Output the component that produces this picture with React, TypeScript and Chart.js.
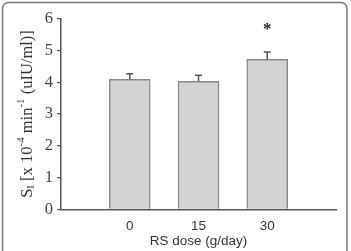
import React, { useEffect, useRef } from "react";
import { Chart, registerables } from "chart.js";

Chart.register(...registerables);

const categories: string[] = ["0", "15", "30"];
const means: number[] = [4.09, 4.03, 4.72];
const errors: number[] = [0.18, 0.19, 0.23];
const significance: string[] = ["", "", "*"];
const yTicks: number[] = [0, 1, 2, 3, 4, 5, 6];
const xTitle = "RS dose (g/day)";

const SERIF = "'Liberation Serif', 'Times New Roman', serif";
const SANS = "'Liberation Sans', Arial, sans-serif";

const frame = {
  id: "frame",
  beforeDraw(chart: any) {
    const ctx = chart.ctx;
    ctx.save();
    ctx.strokeStyle = "#7a7a7a";
    ctx.lineWidth = 1.5;
    ctx.beginPath();
    (ctx as any).roundRect(2.5, 2.5, 344.5, 270, 6);
    ctx.stroke();
    ctx.restore();
  },
};

const errorBars = {
  id: "errorBars",
  afterDatasetsDraw(chart: any) {
    const ctx = chart.ctx;
    const meta = chart.getDatasetMeta(0);
    const y = chart.scales.y;
    ctx.save();
    meta.data.forEach((bar: any, i: number) => {
      const idx = i - 1;
      if (idx < 0 || idx >= means.length) return;
      const top = y.getPixelForValue(means[idx]);
      const et = y.getPixelForValue(means[idx] + errors[idx]);
      ctx.strokeStyle = "#555";
      ctx.lineWidth = 1.5;
      ctx.beginPath();
      ctx.moveTo(bar.x, top);
      ctx.lineTo(bar.x, et);
      ctx.moveTo(bar.x - 3.5, et);
      ctx.lineTo(bar.x + 3.5, et);
      ctx.stroke();
      if (significance[idx]) {
        ctx.fillStyle = "#222";
        ctx.font = "bold 17px " + SERIF;
        ctx.textAlign = "center";
        ctx.textBaseline = "middle";
        ctx.fillText(significance[idx], bar.x, et - 22);
      }
    });
    ctx.restore();
  },
};

const yTitle = {
  id: "yTitle",
  afterDraw(chart: any) {
    const ctx = chart.ctx;
    const area = chart.chartArea;
    const runs: [string, string, number][] = [
      ["S", "n", 0],
      ["I", "s", 3.5],
      [" [x 10", "n", 0],
      ["-4", "s", -6.5],
      [" min", "n", 0],
      ["-1", "s", -6.5],
      [" (uIU/ml)]", "n", 0],
    ];
    const big = "16.5px " + SERIF;
    const small = "11px " + SERIF;
    ctx.save();
    let total = 0;
    const widths = runs.map(([t, k]) => {
      ctx.font = k === "n" ? big : small;
      const w = ctx.measureText(t).width;
      total += w;
      return w;
    });
    const cx = 27;
    const cy = (area.top + area.bottom) / 2;
    ctx.translate(cx, cy);
    ctx.rotate(-Math.PI / 2);
    ctx.fillStyle = "#333";
    ctx.textBaseline = "middle";
    ctx.textAlign = "left";
    let x = -total / 2;
    runs.forEach(([t, k, dy], i) => {
      ctx.font = k === "n" ? big : small;
      ctx.fillText(t, x, dy + 1);
      x += widths[i];
    });
    ctx.restore();
  },
};

export default function App() {
  const ref = useRef<HTMLCanvasElement | null>(null);
  useEffect(() => {
    document.body.style.margin = "0";
    const labels = ["", ...categories, ""];
    const data = [null, ...means, null];
    const chart = new Chart(ref.current as HTMLCanvasElement, {
      type: "bar",
      data: {
        labels,
        datasets: [
          {
            data: data as any,
            backgroundColor: "#d3d3d3",
            borderColor: "#8a8a8a",
            borderWidth: 1.5,
            barThickness: 41,
          },
        ],
      },
      options: {
        responsive: false,
        animation: false,
        layout: { padding: { top: 18.7, right: 15, left: 0, bottom: 0 } },
        plugins: { legend: { display: false }, tooltip: { enabled: false } },
        scales: {
          x: {
            offset: false,
            grid: { display: false, drawTicks: false },
            border: { display: true, color: "#555", width: 1.5 },
            ticks: {
              color: "#333",
              font: { family: SANS, size: 13.5 },
              padding: 9,
              maxRotation: 0,
              autoSkip: false,
            },
            title: {
              display: true,
              text: xTitle,
              color: "#333",
              font: { family: SANS, size: 13.5 },
              padding: { top: 0, bottom: 2 },
            },
            afterFit(scale: any) {
              scale.height = 41.7;
            },
          },
          y: {
            min: 0,
            max: 6,
            afterBuildTicks(scale: any) {
              scale.ticks = yTicks.map((v) => ({ value: v }));
            },
            grid: {
              display: true,
              drawOnChartArea: false,
              drawTicks: true,
              tickLength: 4,
              color: "#555",
              lineWidth: 1.2,
            },
            border: { display: true, color: "#555", width: 1.5 },
            ticks: {
              color: "#444",
              font: { family: SERIF, size: 16.5 },
              padding: 4,
            },
            afterFit(scale: any) {
              scale.width = 61;
            },
          },
        },
      },
      plugins: [frame, errorBars, yTitle],
    });
    return () => chart.destroy();
  }, []);
  return (
    <div style={{ width: 351, height: 251 }}>
      <canvas ref={ref} width={351} height={251} style={{ display: "block" }} />
    </div>
  );
}
